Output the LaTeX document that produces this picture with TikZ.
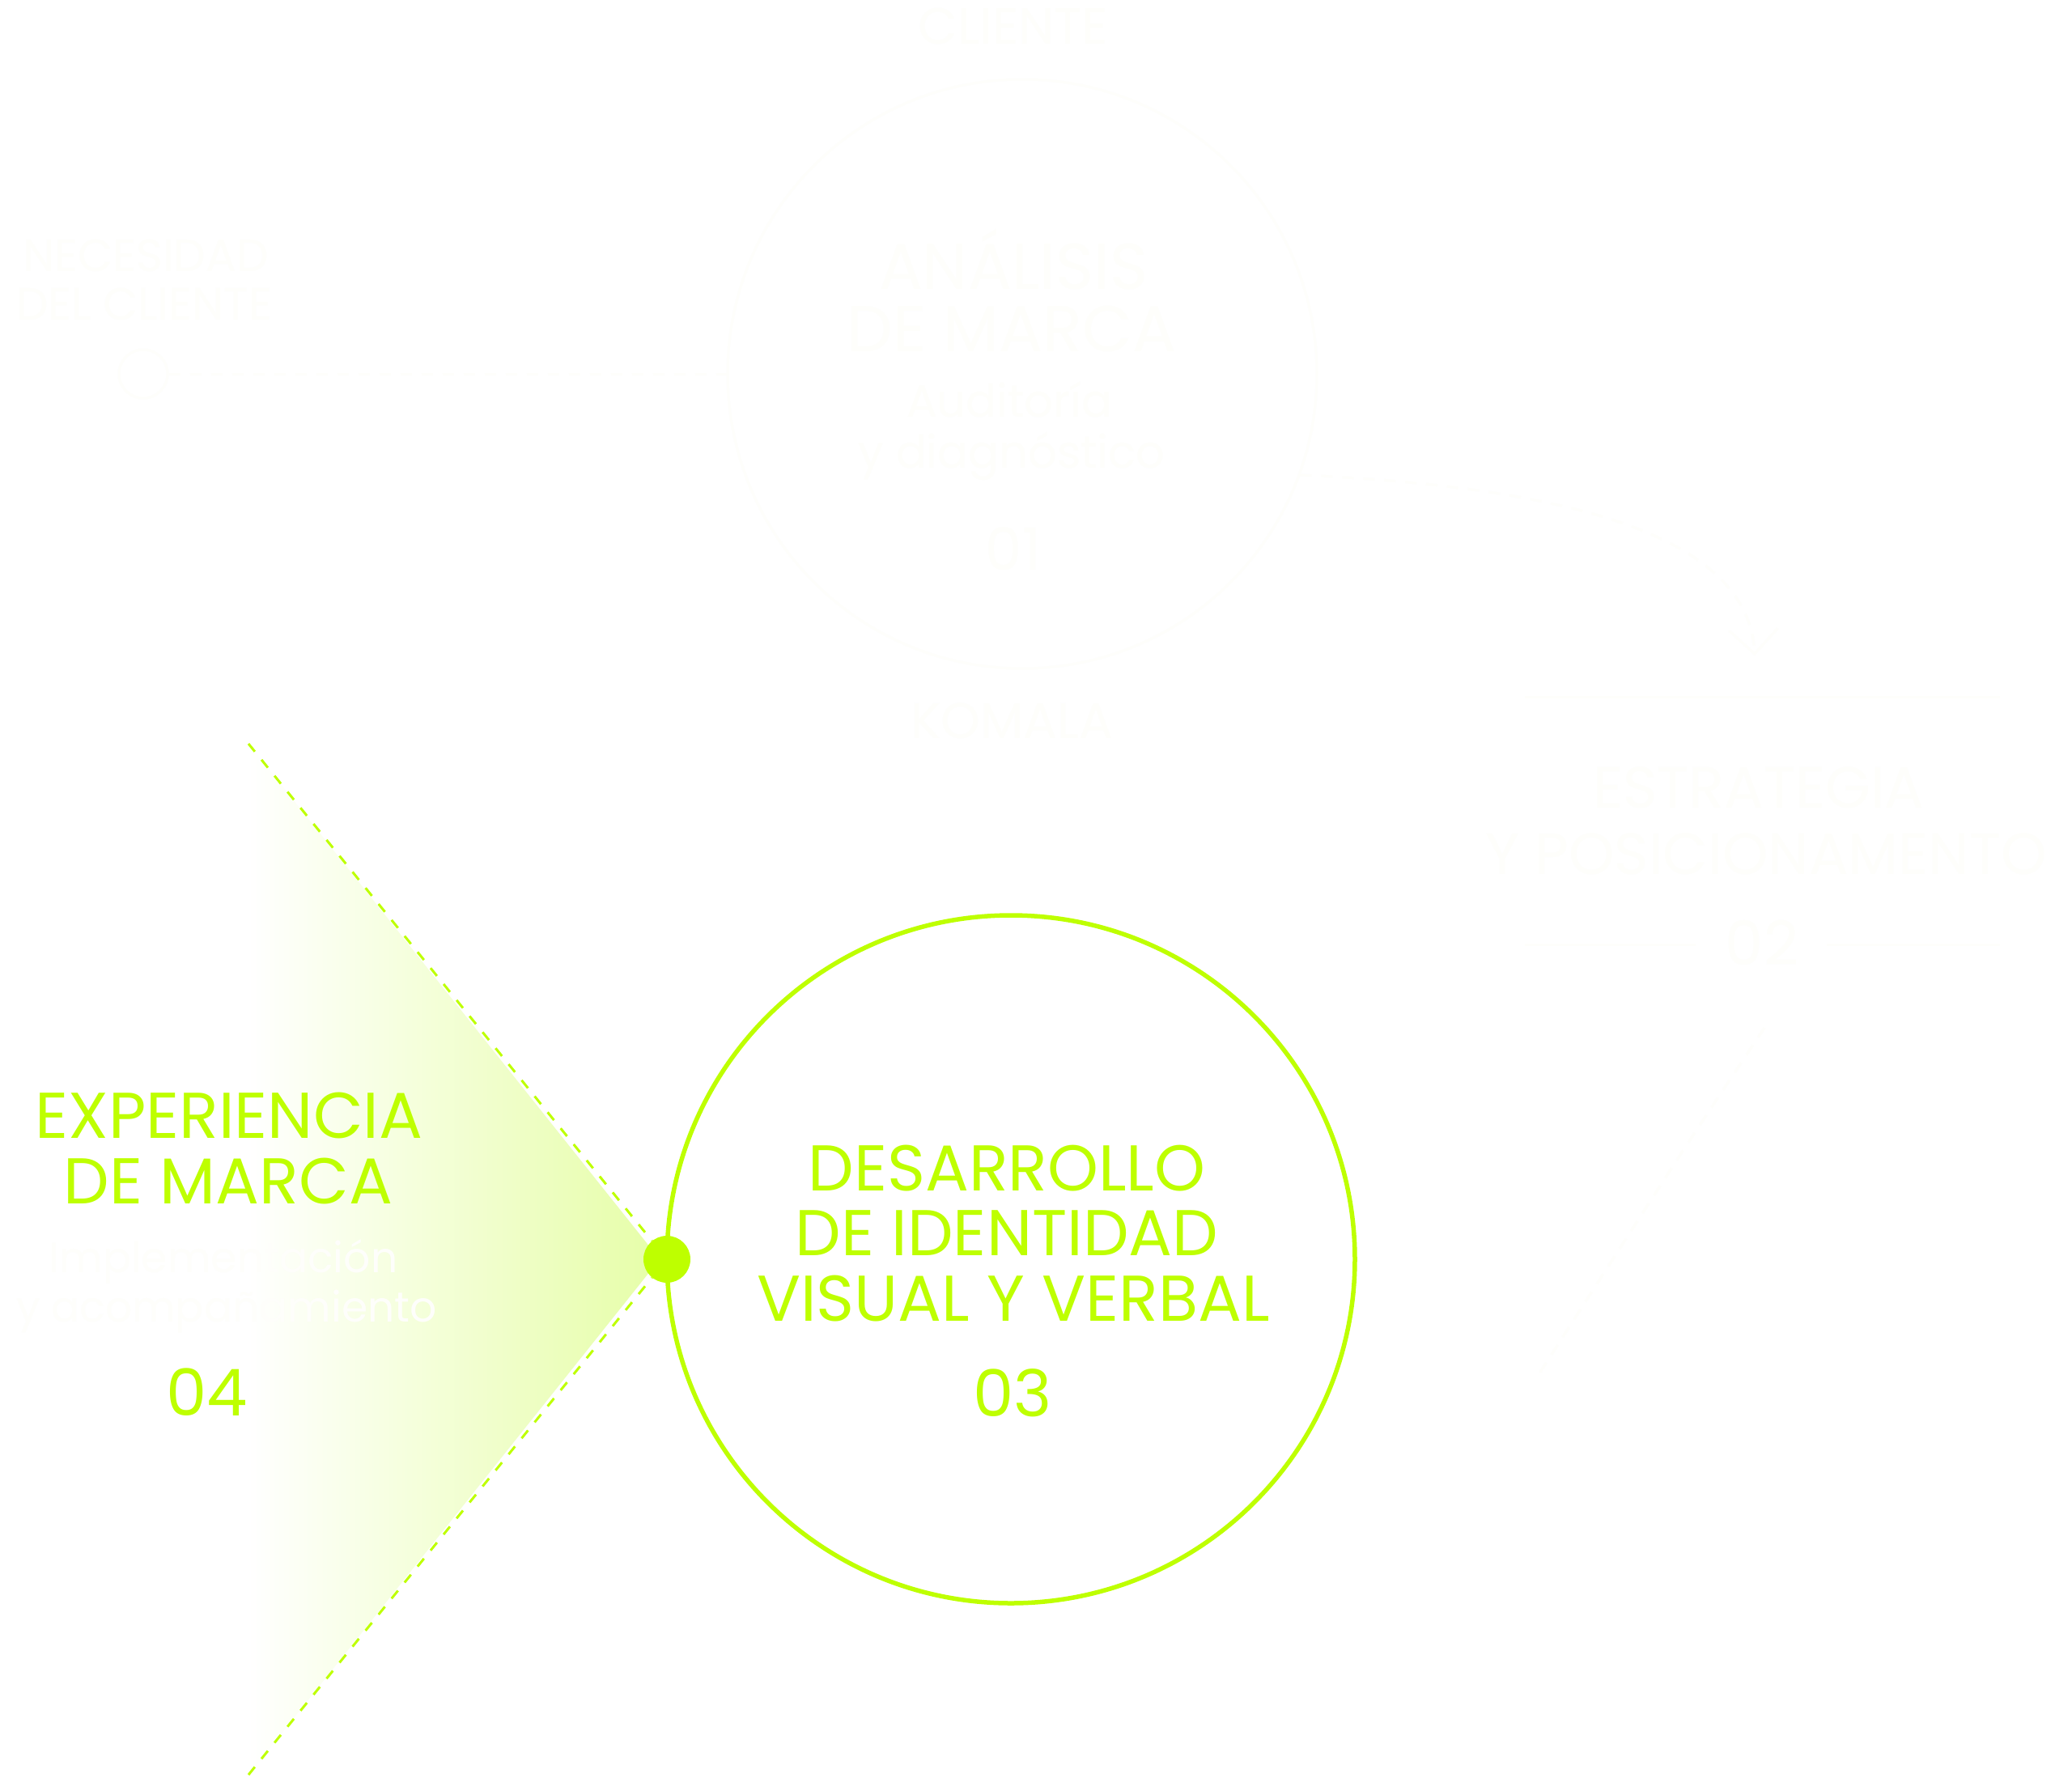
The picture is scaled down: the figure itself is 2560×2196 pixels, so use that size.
\documentclass[tikz,border=0pt]{standalone}
\usepackage{fontspec}
\setmainfont{Poppins}
\newfontfamily\pop{Poppins}
\usetikzlibrary{arrows.meta}
\definecolor{limeG}{RGB}{190,255,0}
\definecolor{fadeG}{RGB}{230,254,168}
\definecolor{ghost}{RGB}{254,254,251}
\tikzset{
  gtxt/.style={text=limeG, font=\pop\fontsize{80}{80}\selectfont, anchor=base, inner sep=0pt},
  ghtxt/.style={text=ghost, anchor=base, inner sep=0pt},
  dashln/.style={draw=limeG, line width=3pt, dash pattern=on 12.5pt off 13pt},
  ghline/.style={draw=ghost, line width=3pt},
  ghdash/.style={draw=ghost, line width=3pt, dash pattern=on 14pt off 12pt}
}
\begin{document}
\begin{tikzpicture}[x=1pt,y=-1pt]
\useasboundingbox (0,0) rectangle (2560,2196);
\fill[white] (0,0) rectangle (2560,2196);

% ---------- spotlight of step 04 ----------
\coordinate (tl) at (307,919);
\coordinate (bl) at (307,2193);
\coordinate (apex) at (815,1556);
\shade[left color=white, right color=fadeG] (tl) -- (apex) -- (bl) -- cycle;

% ---------- faint (white) content ----------
\node[ghtxt, font=\pop\fontsize{63}{63}\selectfont] (cli) at (1252,54) {CLIENTE};
\node[ghtxt, font=\pop\fontsize{56}{56}\selectfont] (nec1) at (180,335) {NECESIDAD};
\node[ghtxt, font=\pop\fontsize{56}{56}\selectfont] (nec2) at (178,395) {DEL CLIENTE};
\node[draw=ghost, line width=3pt, circle, minimum size=60pt, inner sep=0pt] (sc) at (177,462) {};
\node[draw=ghost, line width=3pt, circle, minimum size=728pt, inner sep=0pt] (c1) at (1263,462) {};
\draw[ghdash] (sc) -- (c1);
\node[ghtxt, font=\pop\fontsize{80}{80}\selectfont] (an1) at (1252,357) {ANÁLISIS};
\node[ghtxt, font=\pop\fontsize{80}{80}\selectfont] (an2) at (1250,434) {DE MARCA};
\node[ghtxt, font=\pop\fontsize{56}{56}\selectfont] (au1) at (1247,515) {Auditoría};
\node[ghtxt, font=\pop\fontsize{56}{56}\selectfont] (au2) at (1250,578) {y diagnóstico};
\node[ghtxt, font=\pop\fontsize{72}{72}\selectfont] (n1) at (1252,704) {01};
\node[ghtxt, font=\pop\fontsize{62}{62}\selectfont] (kom) at (1250,912) {KOMALA};

\draw[ghline] (1884,861) -- (2471,861);
\node[ghtxt, font=\pop\fontsize{72}{72}\selectfont] (es1) at (2173,998) {ESTRATEGIA};
\node[ghtxt, font=\pop\fontsize{72}{72}\selectfont] (es2) at (2182,1080) {Y POSICIONAMENTO};
\node[ghtxt, font=\pop\fontsize{75}{75}\selectfont] (n2) at (2177,1192) {02};
\draw[ghline] (1884,1167) -- (2095,1167);
\draw[ghline] (2257,1167) -- (2471,1167);

\coordinate (arr) at (2168,810);
\draw[ghdash, -{Straight Barb[length=30pt,width=60pt]}] (c1.-20) .. controls (1900,600) and (2160,650) .. (arr);
\coordinate (e2) at (2180,1270);
\coordinate (e3) at (1900,1700);
\draw[ghdash] (e2) .. controls (2080,1420) .. (e3);

\node[ghtxt, font=\pop\fontsize{52}{52}\selectfont] (im1) at (276,1572) {Implementación};
\node[ghtxt, font=\pop\fontsize{52}{52}\selectfont] (im2) at (280,1633) {y acompañamiento};

% ---------- step 03 circle ----------
\node[draw=limeG, line width=5.5pt, circle, minimum size=850pt, inner sep=0pt] (c3) at (1249,1556) {};
\node[fill=limeG, circle, minimum size=58pt, inner sep=0pt] (dot) at (824,1556) {};
\draw[dashln] (tl) -- (dot);
\draw[dashln] (bl) -- (dot);

% ---------- green texts ----------
\node[gtxt] (t3a) at (1244,1471) {DESARROLLO};
\node[gtxt] (t3b) at (1244,1551) {DE IDENTIDAD};
\node[gtxt] (t3c) at (1252,1632) {VISUAL Y VERBAL};
\node[gtxt] (n3) at (1251,1750) {03};
\node[gtxt] (t4a) at (283,1406) {EXPERIENCIA};
\node[gtxt] (t4b) at (282,1487) {DE MARCA};
\node[gtxt] (n4) at (256,1749) {04};
\end{tikzpicture}
\end{document}
